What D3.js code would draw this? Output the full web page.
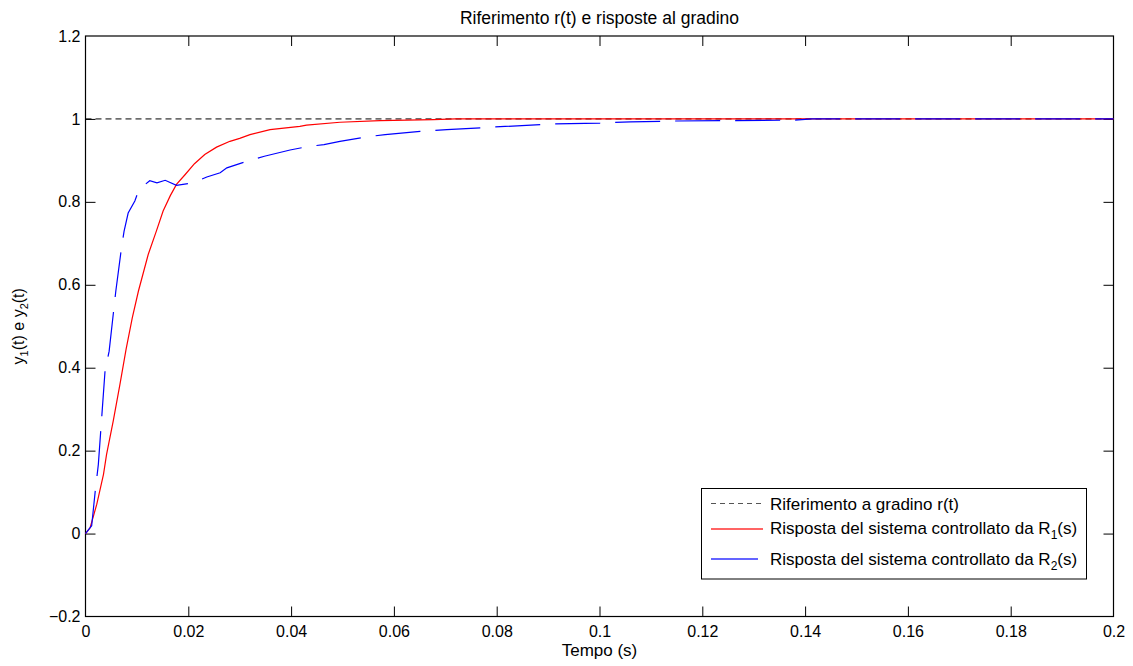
<!DOCTYPE html>
<html>
<head>
<meta charset="utf-8">
<script src="https://cdn.jsdelivr.net/npm/d3@7"></script>
<style>
  body { margin: 0; background: #fff; }
  svg { display: block; font-family: "Liberation Sans", Arial, sans-serif; }
</style>
</head>
<body>
<svg id="chart" width="1133" height="666"></svg>
<script>
const width = 1133, height = 666;
const margin = {top: 36, right: 19.5, bottom: 49.5, left: 85.5};

const xTicks = [0, 0.02, 0.04, 0.06, 0.08, 0.1, 0.12, 0.14, 0.16, 0.18, 0.2];
const yTicks = [-0.2, 0, 0.2, 0.4, 0.6, 0.8, 1, 1.2];

// reference step r(t)
const refT = [0, 0.2];
const refY = [1, 1];

// response with R1(s)
const r1T = [0, 0.0009, 0.0022, 0.0035, 0.0041, 0.0054, 0.0067, 0.0079, 0.0091, 0.0103, 0.0122,
  0.0138, 0.0151, 0.0165, 0.0177, 0.0194, 0.0212, 0.0232, 0.0255, 0.0281, 0.0300, 0.0320,
  0.0359, 0.0417, 0.0430, 0.0495, 0.0573, 0.0677, 0.0720, 0.2];
const r1Y = [0, 0.014, 0.071, 0.143, 0.191, 0.272, 0.360, 0.445, 0.520, 0.585, 0.673,
  0.730, 0.778, 0.815, 0.842, 0.866, 0.892, 0.914, 0.932, 0.946, 0.953, 0.962,
  0.974, 0.982, 0.985, 0.992, 0.996, 0.9985, 1, 1];

// response with R2(s)
const r2T = [0, 0.0012, 0.0019, 0.0025, 0.0032, 0.0038, 0.0046, 0.0059, 0.0070, 0.0075, 0.0083,
  0.0096, 0.0104, 0.0125, 0.0139, 0.0155, 0.0177, 0.0210, 0.0236, 0.0262, 0.0275, 0.0319,
  0.0348, 0.0398, 0.0435, 0.0464, 0.0495, 0.0554, 0.0583, 0.0651, 0.0703, 0.0787, 0.0910,
  0.1001, 0.1060, 0.1147, 0.1260, 0.1380, 0.1413, 0.2];
const r2Y = [0, 0.019, 0.103, 0.167, 0.288, 0.392, 0.440, 0.585, 0.689, 0.729, 0.773,
  0.802, 0.830, 0.851, 0.846, 0.852, 0.840, 0.846, 0.860, 0.870, 0.882, 0.900,
  0.910, 0.925, 0.934, 0.938, 0.946, 0.958, 0.962, 0.970, 0.974, 0.980, 0.988,
  0.990, 0.993, 0.995, 0.996, 0.997, 1, 1];

const legendLabels = ["Riferimento a gradino r(t)", "Risposta del sistema controllato da R", "Risposta del sistema controllato da R"];
const legendSubs = [null, "1", "2"];

const svg = d3.select("#chart");
const x = d3.scaleLinear().domain([0, 0.2]).range([margin.left, width - margin.right]);
const y = d3.scaleLinear().domain([-0.2, 1.2]).range([height - margin.bottom, margin.top]);

const fmt = d => d3.format("")(+d.toFixed(2));

// frame
svg.append("rect")
    .attr("x", x(0)).attr("y", y(1.2))
    .attr("width", x(0.2) - x(0)).attr("height", y(-0.2) - y(1.2))
    .attr("fill", "none").attr("stroke", "#000").attr("stroke-width", 1.2);

// axes with inward ticks
const tickLen = 10;
const axB = svg.append("g").attr("transform", `translate(0,${y(-0.2)})`)
    .call(d3.axisBottom(x).tickValues(xTicks).tickSize(-tickLen).tickPadding(9).tickFormat(fmt));
const axT = svg.append("g").attr("transform", `translate(0,${y(1.2)})`)
    .call(d3.axisTop(x).tickValues(xTicks).tickSize(-tickLen).tickFormat(""));
const axL = svg.append("g").attr("transform", `translate(${x(0)},0)`)
    .call(d3.axisLeft(y).tickValues(yTicks).tickSize(-tickLen).tickPadding(5).tickFormat(fmt));
const axR = svg.append("g").attr("transform", `translate(${x(0.2)},0)`)
    .call(d3.axisRight(y).tickValues(yTicks).tickSize(-tickLen).tickFormat(""));

[axB, axT, axL, axR].forEach(a => {
    a.select(".domain").remove();
    a.selectAll("line").attr("stroke", "#000");
    a.selectAll("text").attr("font-size", 16).attr("font-family", "Liberation Sans, Arial, sans-serif").attr("fill", "#000");
});
// hide end ticks that sit on the frame
axB.selectAll(".tick line").filter(d => d === 0 || d === 0.2).remove();
axT.selectAll(".tick line").filter(d => d === 0 || d === 0.2).remove();
axL.selectAll(".tick line").filter(d => d === -0.2 || d === 1.2).remove();
axR.selectAll(".tick line").filter(d => d === -0.2 || d === 1.2).remove();

const line = d3.line().x(d => x(d[0])).y(d => y(d[1]));

svg.append("path")
    .datum(d3.zip(refT, refY))
    .attr("d", line)
    .attr("fill", "none").attr("stroke", "#000").attr("stroke-width", 1)
    .attr("stroke-dasharray", "6,4");

svg.append("path")
    .datum(d3.zip(r1T, r1Y))
    .attr("d", line)
    .attr("fill", "none").attr("stroke", "#ff0000").attr("stroke-width", 1.2);

svg.append("path")
    .datum(d3.zip(r2T, r2Y))
    .attr("d", line)
    .attr("fill", "none").attr("stroke", "#0000ff").attr("stroke-width", 1.2)
    .attr("stroke-dasharray", "45,15");

// title and labels
svg.append("text")
    .attr("x", (x(0) + x(0.2)) / 2).attr("y", 24)
    .attr("text-anchor", "middle").attr("font-size", 17.5)
    .text("Riferimento r(t) e risposte al gradino");

svg.append("text")
    .attr("x", (x(0) + x(0.2)) / 2).attr("y", 656)
    .attr("text-anchor", "middle").attr("font-size", 17)
    .text("Tempo (s)");

const yl = svg.append("text")
    .attr("transform", `translate(24,${(y(-0.2) + y(1.2)) / 2}) rotate(-90)`)
    .attr("text-anchor", "middle").attr("font-size", 16);
yl.append("tspan").text("y");
yl.append("tspan").attr("font-size", 11).attr("dy", 4).text("1");
yl.append("tspan").attr("dy", -4).text("(t) e y");
yl.append("tspan").attr("font-size", 11).attr("dy", 4).text("2");
yl.append("tspan").attr("dy", -4).text("(t)");

// legend
const lg = svg.append("g");
lg.append("rect")
    .attr("x", 701.5).attr("y", 488.5).attr("width", 385).attr("height", 90.5)
    .attr("fill", "#fff").attr("stroke", "#000").attr("stroke-width", 1);
const rowY = [503.5, 529, 559];
const textY = [510, 533.5, 565];
const legendColors = ["#555", "#ff3030", "#3030ff"];
const legendDash = ["5,4", "none", "none"];
legendLabels.forEach((lab, i) => {
    lg.append("path")
        .attr("d", `M711,${rowY[i]}H${i === 2 ? 758 : 763}`)
        .attr("fill", "none")
        .attr("stroke", legendColors[i]).attr("stroke-width", i === 0 ? 1 : 1.6)
        .attr("stroke-dasharray", legendDash[i]);
    const t = lg.append("text")
        .attr("x", 770).attr("y", textY[i]).attr("font-size", 17);
    t.append("tspan").text(lab);
    if (legendSubs[i]) {
        t.append("tspan").attr("font-size", 12).attr("dy", 5).text(legendSubs[i]);
        t.append("tspan").attr("dy", -5).text("(s)");
    }
});
</script>
</body>
</html>
